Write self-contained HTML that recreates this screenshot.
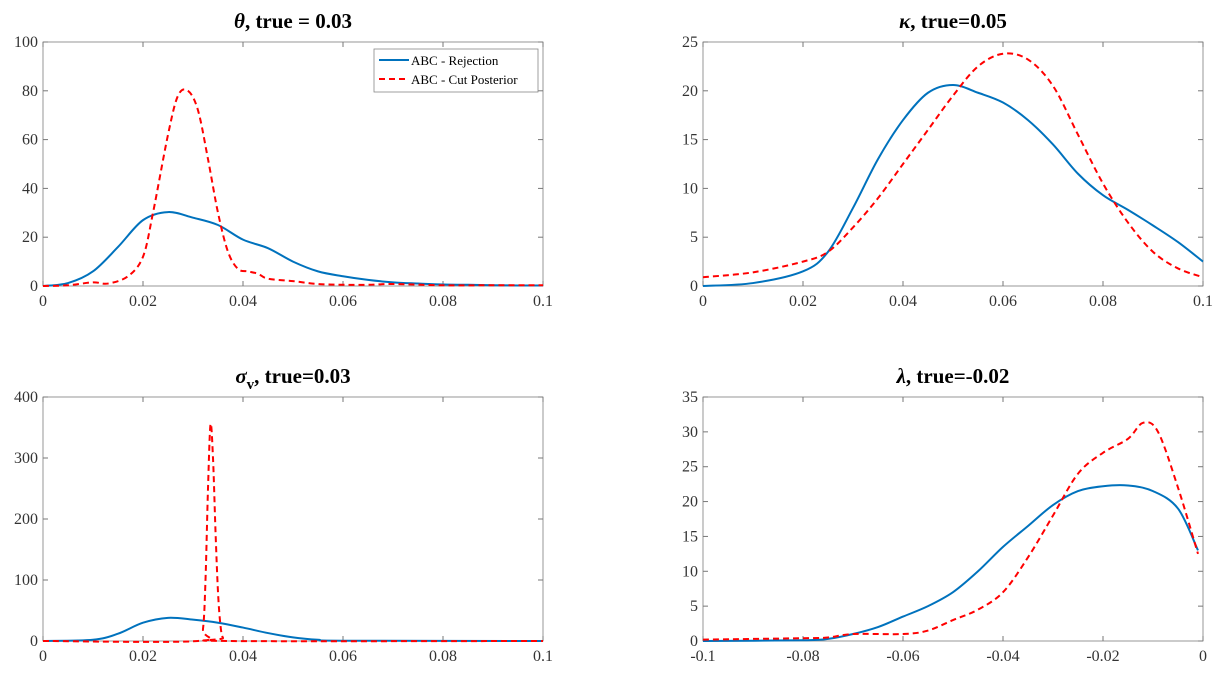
<!DOCTYPE html>
<html><head><meta charset="utf-8"><style>
body{margin:0;background:#fff;width:1218px;height:684px;overflow:hidden}
svg text{font-family:"Liberation Serif",serif}
</style></head><body>
<svg id="fig" width="1218" height="684"></svg>
<script>
const thetaX=[0,.005,.01,.015,.02,.025,.03,.035,.04,.045,.05,.055,.06,.065,.07,.075,.08,.085,.09,.095,.1];
const thetaRej=[0,1.2,6,16,27,30.3,28,25,19,15.5,10,6,4,2.5,1.5,1,0.6,0.5,0.3,0.2,0.2];
const thetaCutX=[0,.005,.01,.013,.017,.02,.022,.025,.027,.029,.031,.033,.035,.037,.039,.041,.043,.045,.05,.055,.06,.065,.07,.08,.09,.1];
const thetaCut=[0,0.3,1.5,1,4,12,30,62,78,80,72,52,30,14,7,6,5,3,2,0.8,0.5,0.5,0.8,0.3,0.3,0.3];
const kappaX=[0,.01,.02,.025,.03,.035,.04,.045,.05,.055,.06,.065,.07,.075,.08,.085,.09,.095,.1];
const kappaRej=[0,0.3,1.5,3.5,8,13,17,19.8,20.6,19.8,18.8,17,14.5,11.5,9.3,7.8,6.2,4.5,2.5];
const kappaCut=[0.9,1.4,2.5,3.5,6,9,12.5,16,19.5,22.5,23.8,23.2,20.5,15.5,10.5,6.5,3.5,1.8,0.9];
const sigmaRejX=[0,.01,.015,.02,.025,.03,.035,.04,.045,.05,.055,.06,.1];
const sigmaRej=[0,2,12,30,38,35,30,22,13,6,2,0.5,0];
const sigmaCutX=[0,.031,.032,.0325,.033,.0335,.034,.0345,.035,.0355,.036,.037,.1];
const sigmaCut=[0,0,20,100,250,355,300,180,80,25,5,0,0];
const lamRejX=[-.1,-.08,-.075,-.07,-.065,-.06,-.055,-.05,-.045,-.04,-.035,-.03,-.025,-.02,-.015,-.01,-.005,-.001];
const lamRej=[0,0.1,0.3,1,2,3.5,5,7,10,13.5,16.5,19.5,21.5,22.2,22.3,21.5,19,13];
const lamCutX=[-.1,-.08,-.075,-.07,-.06,-.055,-.05,-.045,-.04,-.035,-.03,-.025,-.02,-.015,-.012,-.009,-.005,-.001];
const lamCut=[0.2,0.4,0.5,1,1,1.5,3,4.5,7,12,18,24,27,29,31.3,30,22,12.5];
const xTicks01=['0','0.02','0.04','0.06','0.08','0.1'];
const xTicksLam=['-0.1','-0.08','-0.06','-0.04','-0.02','0'];

const NS='http://www.w3.org/2000/svg';
const svg=document.getElementById('fig');
function mk(tag,attrs,parent){const e=document.createElementNS(NS,tag);for(const k in attrs)e.setAttribute(k,attrs[k]);(parent||svg).appendChild(e);return e;}
function smooth(pts){let d='M'+pts[0][0]+','+pts[0][1];for(let i=0;i<pts.length-1;i++){const p0=pts[i-1]||pts[i],p1=pts[i],p2=pts[i+1],p3=pts[i+2]||p2;
const c1=[p1[0]+(p2[0]-p0[0])/6,p1[1]+(p2[1]-p0[1])/6],c2=[p2[0]-(p3[0]-p1[0])/6,p2[1]-(p3[1]-p1[1])/6];
d+=' C'+c1[0]+','+c1[1]+' '+c2[0]+','+c2[1]+' '+p2[0]+','+p2[1];}return d;}
function panel(o){
  const g=mk('g',{});
  const L=o.x0,R=o.x0+500,T=o.y0,B=o.y0+244;
  const sx=v=>L+(v-o.xmin)/(o.xmax-o.xmin)*500, sy=v=>B-(v-o.ymin)/(o.ymax-o.ymin)*244;
  const t=mk('text',{x:(L+R)/2,y:T-14,'text-anchor':'middle','font-size':21,'font-weight':'bold',fill:'#000'},g);
  t.innerHTML=o.title;
  mk('rect',{x:L,y:T,width:500,height:244,fill:'none',stroke:'#262626','stroke-width':0.8,'stroke-opacity':0.6},g);
  o.xt.forEach((lab,i)=>{const v=o.xmin+i*(o.xmax-o.xmin)/(o.xt.length-1),x=sx(v);
    mk('line',{x1:x,x2:x,y1:B,y2:B-5,stroke:'#777'},g);mk('line',{x1:x,x2:x,y1:T,y2:T+5,stroke:'#777'},g);
    const tx=mk('text',{x:x,y:B+20,'text-anchor':'middle','font-size':16,fill:'#333'},g);tx.textContent=lab;
    });
  for(let v=o.ymin;v<=o.ymax+1e-9;v+=o.ystep){const y=sy(v);
    mk('line',{x1:L,x2:L+5,y1:y,y2:y,stroke:'#777'},g);mk('line',{x1:R,x2:R-5,y1:y,y2:y,stroke:'#777'},g);
    const ty=mk('text',{x:L-5,y:y+5,'text-anchor':'end','font-size':16,fill:'#333'},g);ty.textContent=v;
    }
  const p1=mk('path',{d:smooth(o.rx.map((x,i)=>[sx(x),sy(o.ry[i])])),fill:'none',stroke:'#0072BD','stroke-width':2},g);
  
  const p2=mk('path',{d:smooth(o.cx.map((x,i)=>[sx(x),sy(o.cy[i])])),fill:'none',stroke:'#FF0000','stroke-width':2,'stroke-dasharray':'6,4'},g);
  
}
panel({name:'theta-panel',x0:43,y0:42,xmin:0,xmax:.1,ymin:0,ymax:100,ystep:20,xt:xTicks01,title:'<tspan font-style="italic">θ</tspan>, true = 0.03',rx:thetaX,ry:thetaRej,cx:thetaCutX,cy:thetaCut});
panel({name:'kappa-panel',x0:703,y0:42,xmin:0,xmax:.1,ymin:0,ymax:25,ystep:5,xt:xTicks01,title:'<tspan font-style="italic">κ</tspan>, true=0.05',rx:kappaX,ry:kappaRej,cx:kappaX,cy:kappaCut});
panel({name:'sigma-v-panel',x0:43,y0:397,xmin:0,xmax:.1,ymin:0,ymax:400,ystep:100,xt:xTicks01,title:'<tspan font-style="italic">σ</tspan><tspan font-size="15" dy="6">v</tspan><tspan dy="-6">, true=0.03</tspan>',rx:sigmaRejX,ry:sigmaRej,cx:sigmaCutX,cy:sigmaCut});
panel({name:'lambda-panel',x0:703,y0:397,xmin:-.1,xmax:0,ymin:0,ymax:35,ystep:5,xt:xTicksLam,title:'<tspan font-style="italic">λ</tspan>, true=-0.02',rx:lamRejX,ry:lamRej,cx:lamCutX,cy:lamCut});
const lg=mk('g',{});
mk('rect',{x:374,y:49,width:164,height:43,fill:'#fff',stroke:'#888','stroke-width':0.8},lg);
mk('line',{x1:379,x2:409,y1:60,y2:60,stroke:'#0072BD','stroke-width':2},lg);
mk('line',{x1:379,x2:409,y1:79,y2:79,stroke:'#FF0000','stroke-width':2,'stroke-dasharray':'6,4'},lg);
const l1=mk('text',{x:411,y:65,'font-size':13,fill:'#000'},lg);l1.textContent='ABC - Rejection';

const l2=mk('text',{x:411,y:84,'font-size':13,fill:'#000'},lg);l2.textContent='ABC - Cut Posterior';

</script>
</body></html>
